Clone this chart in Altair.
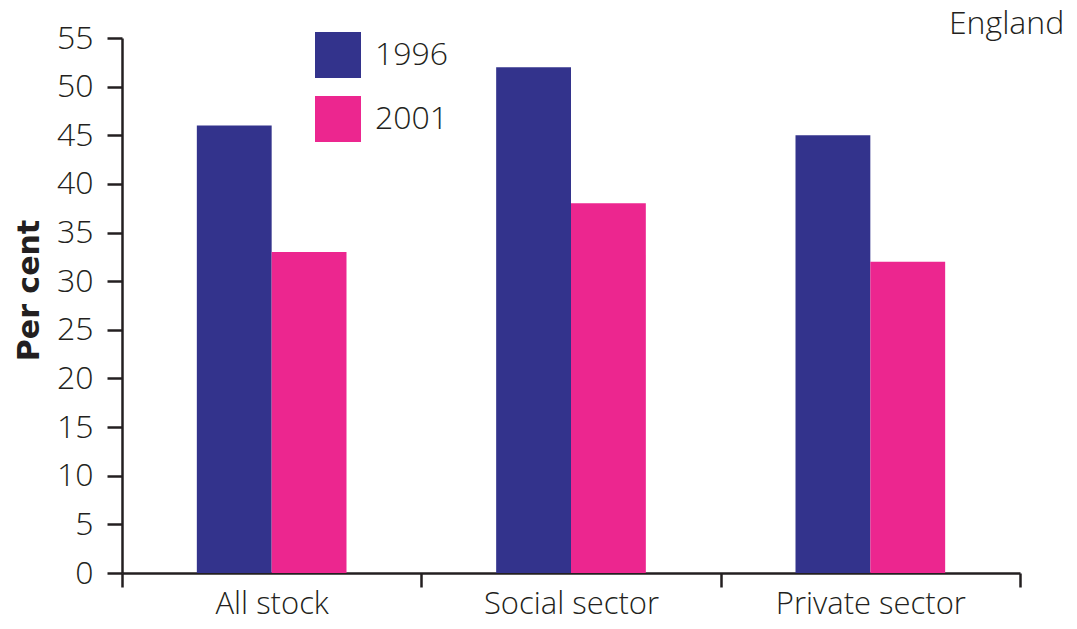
import altair as alt
import pandas as pd

categories = ["All stock", "Social sector", "Private sector"]
years = ["1996", "2001"]
values_1996 = [46, 52, 45]
values_2001 = [33, 38, 32]
y_ticks = [0, 5, 10, 15, 20, 25, 30, 35, 40, 45, 50, 55]
colors = ["#33338C", "#EC268F"]

rows = []
for c, a, b in zip(categories, values_1996, values_2001):
    rows.append({"category": c, "year": years[0], "value": a})
    rows.append({"category": c, "year": years[1], "value": b})
df = pd.DataFrame(rows)

FONT = "Open Sans"
FS = 32
INK = "#231f20"

chart = alt.Chart(df).mark_bar().encode(
    x=alt.X("category:N", sort=categories,
            scale=alt.Scale(paddingInner=0, paddingOuter=0),
            axis=alt.Axis(title=None, labelAngle=0, tickBand="extent",
                          tickSize=14, labelPadding=26, labelBaseline="alphabetic",
                          labelFontSize=31, labelLimit=400,
                          labelFont=FONT, labelFontWeight=300, labelColor=INK,
                          domainColor=INK, tickColor=INK, domainWidth=2.5, tickWidth=2.5)),
    xOffset=alt.XOffset("year:N", sort=years,
                        scale=alt.Scale(paddingInner=0, paddingOuter=1)),
    y=alt.Y("value:Q", scale=alt.Scale(domain=[0, 55], nice=False),
            axis=alt.Axis(title="Per cent", values=y_ticks, grid=False,
                          tickSize=15, labelPadding=14, labelFontSize=FS,
                          labelFont=FONT, labelFontWeight=300, labelColor=INK,
                          domainColor=INK, tickColor=INK, domainWidth=2.5, tickWidth=2.5,
                          titleFont="DejaVu Sans", titleFontSize=30, titleFontWeight="bold",
                          titleColor=INK, titleX=-93, titleY=252, titleAngle=270,
                          titleAlign="center", titleBaseline="middle")),
    color=alt.Color("year:N", sort=years,
                    scale=alt.Scale(domain=years, range=colors),
                    legend=alt.Legend(title=None, orient="none", legendX=193, legendY=-6,
                                      symbolType="square", symbolSize=2116,
                                      symbolStrokeWidth=0, symbolOpacity=1,
                                      labelFont=FONT, labelFontSize=FS, labelFontWeight=300,
                                      labelColor=INK, labelOffset=14, rowPadding=18,
                                      padding=0, offset=0)),
).properties(
    width=898, height=535,
    title=alt.TitleParams("England", anchor="end", orient="top", offset=0,
                          baseline="alphabetic", dx=43, dy=44, font=FONT, fontSize=FS,
                          fontWeight=300, color=INK),
    autosize=alt.AutoSizeParams(type="none"),
    padding={"left": 114, "top": 30, "right": 49, "bottom": 48},
).configure_view(stroke=None)

chart.save("out.html", embed_options={"renderer": "svg", "actions": False})
